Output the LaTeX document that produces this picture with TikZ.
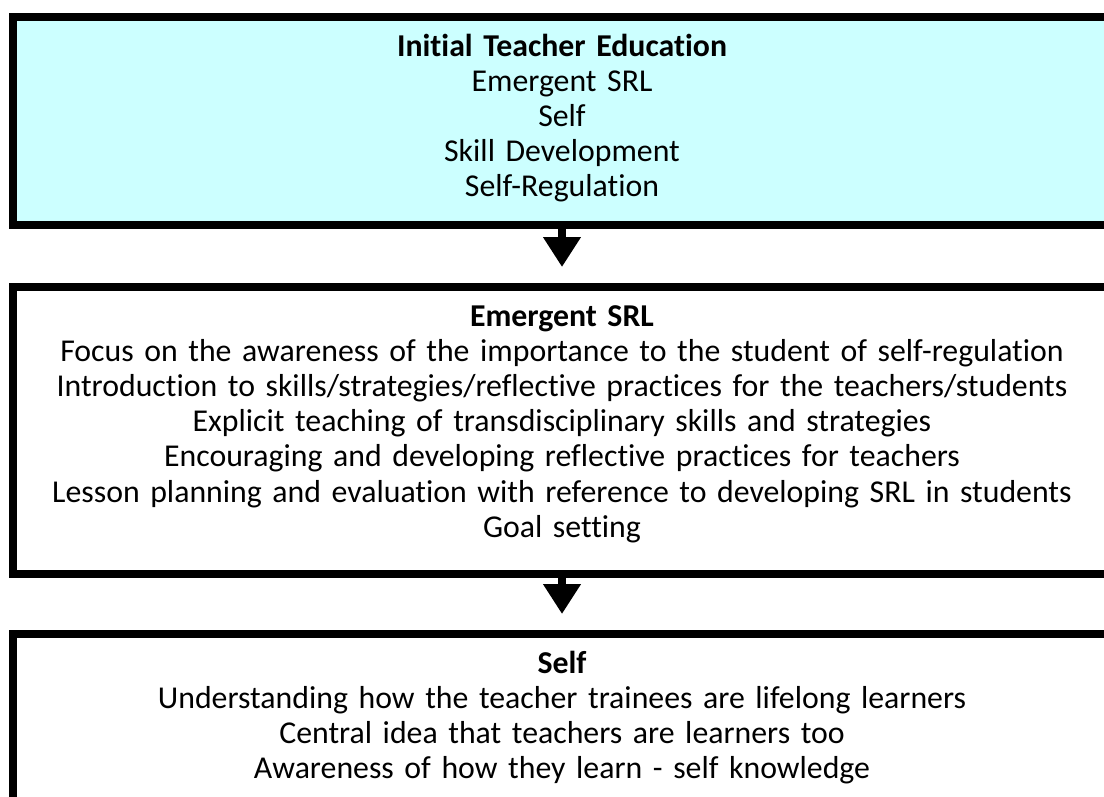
\documentclass[tikz,border=0pt]{standalone}
\usepackage{fontspec}
\setmainfont{Carlito}[Ligatures=NoCommon]
\usetikzlibrary{arrows.meta}
\definecolor{palecyan}{HTML}{CCFFFF}

\begin{document}
\begin{tikzpicture}[
         x = 1pt, y = -1pt,
         > = {Triangle[width=36pt,length=30pt]},
stage/.style = {draw, line width=8pt, minimum width=1098pt, anchor=north,
                text width=1080pt, align=center, inner sep=0pt,
                text height=39pt, font=\fontsize{31.8}{35.2}\selectfont},
 flow/.style = {line width=7.5pt, ->, shorten >=16pt}
                        ]
\useasboundingbox (0,0) rectangle (1104,796);
% stages
    \node[stage, fill=palecyan, text depth=169pt] (ite) at (562,13)
        {\textbf{Initial Teacher Education}\\ Emergent SRL\\ Self\\ Skill Development\\ Self-Regulation};
    \node[stage, text depth=248pt] (esrl) at (562,283)
        {\textbf{Emergent SRL}\\
         Focus on the awareness of the importance to the student of self-regulation\\
         Introduction to skills/strategies/reflective practices for the teachers/students\\
         Explicit teaching of transdisciplinary skills and strategies\\
         Encouraging and developing reflective practices for teachers\\
         Lesson planning and evaluation with reference to developing SRL in students\\
         Goal setting};
    \node[stage, text depth=200pt] (self) at (562,630)
        {\textbf{Self}\\
         Understanding how the teacher trainees are lifelong learners\\
         Central idea that teachers are learners too\\
         Awareness of how they learn - self knowledge};
% arrows between stages
    \draw[flow] (ite.south) -- (esrl.north);
    \draw[flow] (esrl.south) -- (self.north);
\end{tikzpicture}
\end{document}
